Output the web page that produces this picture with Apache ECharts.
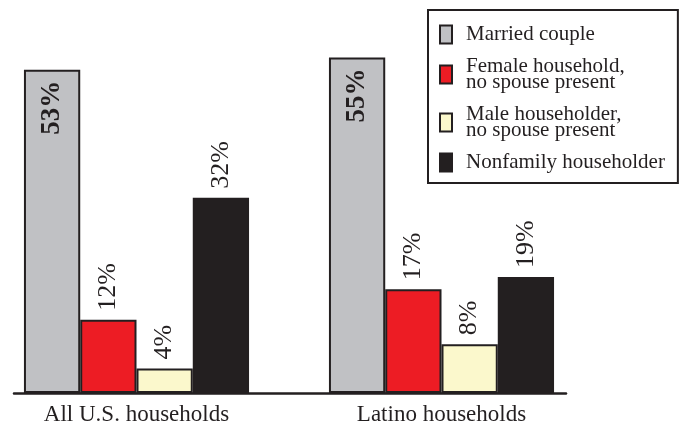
<!DOCTYPE html>
<html>
<head>
<meta charset="utf-8">
<script src="https://cdn.jsdelivr.net/npm/echarts@6/dist/echarts.min.js"></script>
<style>
  html, body { margin: 0; padding: 0; background: #fff; }
  #chart { width: 683px; height: 433px; }
</style>
</head>
<body>
<div id="chart"></div>
<script>
const groups = ["All U.S. households", "Latino households"]
const seriesNames = ["Married couple", "Female household, no spouse present", "Male householder, no spouse present", "Nonfamily householder"]
const legendText = ["Married couple", "Female household,\nno spouse present", "Male householder,\nno spouse present", "Nonfamily householder"]
const married = [53, 55]
const female = [12, 17]
const male = [4, 8]
const nonfamily = [32, 19]
const colors = ["#c0c1c4", "#ed1c24", "#fbf8cc", "#231f20"]

const ink = "#231f20"
const serif = "'Liberation Serif', 'Times New Roman', serif"

const chart = echarts.init(document.getElementById("chart"))

const outsideLabel = {
  show: true,
  position: "top",
  rotate: 90,
  align: "left",
  verticalAlign: "middle",
  distance: 9,
  fontFamily: serif,
  fontSize: 26,
  color: ink,
  formatter: (p) => p.value + "%"
}

const values = [married, female, male, nonfamily]
const series = values.map((vals, i) => ({
  name: seriesNames[i],
  type: "bar",
  data: vals,
  barGap: "0%",
  barCategoryGap: "26.2%",
  itemStyle: { color: colors[i], borderColor: ink, borderWidth: 2 },
  label: i === 0 ? {
    show: true,
    position: "insideTop",
    rotate: 90,
    align: "right",
    verticalAlign: "middle",
    distance: 11,
    fontFamily: serif,
    fontSize: 27,
    fontWeight: "bold",
    color: ink,
    formatter: (p) => p.value + "%"
  } : outsideLabel,
  emphasis: { disabled: true }
}))

const option = {
  animation: false,
  grid: [
    { left: -16, right: 89, top: 27, bottom: 40, outerBoundsMode: "none" },
    { left: 14, right: 117, top: 27, bottom: 40, outerBoundsMode: "none" }
  ],
  legend: {
    orient: "vertical",
    left: 428,
    top: 10,
    padding: [14, 13, 10, 11],
    itemGap: 11,
    itemWidth: 12,
    itemHeight: 18,
    icon: "rect",
    borderColor: ink,
    borderWidth: 2,
    selectedMode: false,
    data: seriesNames,
    itemStyle: { borderColor: ink, borderWidth: 2 },
    formatter: (name) => legendText[seriesNames.indexOf(name)],
    textStyle: {
      fontFamily: serif,
      fontSize: 21,
      lineHeight: 16,
      color: ink,
      padding: [0, 0, 0, 9]
    }
  },
  xAxis: [
    {
      type: "category",
      data: groups,
      gridIndex: 0,
      axisLine: { show: false },
      axisTick: { show: false },
      axisLabel: { fontFamily: serif, fontSize: 23, color: ink, margin: 10 }
    },
    {
      type: "category",
      data: groups,
      gridIndex: 1,
      axisLine: { show: true, lineStyle: { color: ink, width: 2.5 } },
      axisTick: { show: false },
      axisLabel: { show: false }
    }
  ],
  yAxis: [
    { type: "value", min: 0, max: 60, gridIndex: 0, show: false },
    { type: "value", min: 0, max: 60, gridIndex: 1, show: false }
  ],
  series: series
}

chart.setOption(option)
</script>
</body>
</html>
